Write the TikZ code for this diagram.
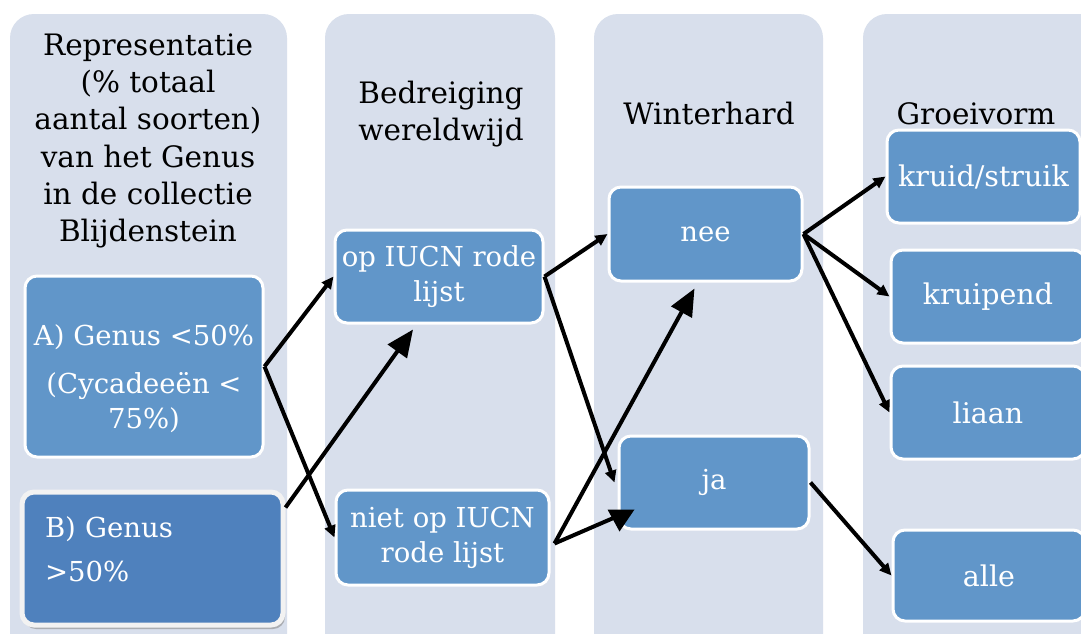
\documentclass[tikz,border=0pt]{standalone}
\usepackage{fontspec}
\setmainfont{DejaVu Serif}
\usetikzlibrary{arrows.meta,calc,shadows}
\definecolor{colbg}{RGB}{216,223,236}
\definecolor{boxblue}{RGB}{97,150,201}
\definecolor{boxdark}{RGB}{79,129,189}
\tikzset{
  column/.style={fill=colbg, rounded corners=24pt},
  head/.style={align=center, text=black, font=\fontsize{29.5}{37.2}\selectfont, inner sep=0pt},
  box/.style={draw=white, line width=3pt, fill=boxblue, rounded corners=12pt, text=white,
    align=center, font=\fontsize{27.5}{35}\selectfont, inner sep=0pt},
  conn/.style={line width=4pt, -{Triangle[length=12pt,width=11pt]}},
  bigconn/.style={line width=4pt, -{Triangle[length=27pt,width=23pt]}},
}
\begin{document}
\begin{tikzpicture}[x=1pt,y=-1pt]
\clip (0,0) rectangle (1081,633);
\fill[white] (0,0) rectangle (1081,633);
% columns
\fill[column] (10,14) rectangle (287,680);
\fill[column] (325,14) rectangle (555,680);
\fill[column] (594,14) rectangle (823,680);
\fill[column] (863,14) rectangle (1120,680);
% headings
\node[head] (h1) at (148,141) {Representatie\\(\% totaal\\aantal soorten)\\van het Genus\\in de collectie\\Blijdenstein};
\node[head] (h2) at (441,114) {Bedreiging\\wereldwijd};
\node[head] (h3) at (709,113) {Winterhard};
\node[head] (h4) at (976,114) {Groeivorm};
% boxes
\node[box, minimum width=238pt, minimum height=181pt] (A) at (144,366.5)
  {\raisebox{0pt}[45pt][0pt]{A) Genus <50\%}\\[13pt](Cycadeeën <\\75\%)};
\node[box, draw={rgb,255:red,242;green,242;blue,242}, line width=5pt, fill=boxdark,
  drop shadow={shadow xshift=2pt, shadow yshift=-4pt, fill=black!45, opacity=0.6},
  minimum width=261pt, minimum height=133pt, align=left, text width=215pt] (B) at (152.5,558.5)
  {B) Genus\\[9pt]>50\%\\[-17pt]\mbox{}};
\node[box, minimum width=208pt, minimum height=93pt] (op) at (439,276.5) {op IUCN rode\\lijst};
\node[box, minimum width=213pt, minimum height=95pt] (niet) at (442.5,537.5) {niet op IUCN\\rode lijst};
\node[box, minimum width=193pt, minimum height=94pt] (nee) at (705.5,234) {nee};
\node[box, minimum width=190pt, minimum height=93pt] (ja) at (714,482.5) {ja};
\node[box, minimum width=193pt, minimum height=93pt, font=\fontsize{28.5}{35}\selectfont] (kruid) at (983.5,176.5) {kruid/struik};
\node[box, minimum width=194pt, minimum height=93pt, font=\fontsize{28.5}{35}\selectfont] (kruipend) at (988,296.5) {kruipend};
\node[box, minimum width=194pt, minimum height=93pt, font=\fontsize{28.5}{35}\selectfont] (liaan) at (988,412.5) {liaan};
\node[box, minimum width=192pt, minimum height=91pt, font=\fontsize{28.5}{35}\selectfont] (alle) at (989,575.5) {alle};
% connectors
\draw[conn] (A.east) -- (op.west);
\draw[conn] (A.east) -- (niet.west);
\draw[bigconn] ($(B.north east)+(0,18)$) -- ($(op.south)+(-26,5)$);
\draw[conn] (op.east) -- (nee.west);
\draw[conn] (op.east) -- ($(ja.west)+(-3,0)$);
\coordinate (nietout) at ($(niet.east)+(4,6)$);
\draw[bigconn] (nietout) -- ($(nee.south)+(-11,6)$);
\draw[line width=4pt] (nietout) -- ($(ja.south west)+(-3,-13)$);
\fill[black] ($(ja.south west)+(-10,-21)$) -- ($(ja.south west)+(17,-21)$) -- ($(ja.south west)+(2,1)$) -- cycle;
\draw[conn] (nee.east) -- (kruid.west);
\draw[conn] (nee.east) -- (kruipend.west);
\draw[conn] (nee.east) -- (liaan.west);
\draw[conn] (ja.east) -- (alle.west);
\end{tikzpicture}
\end{document}
